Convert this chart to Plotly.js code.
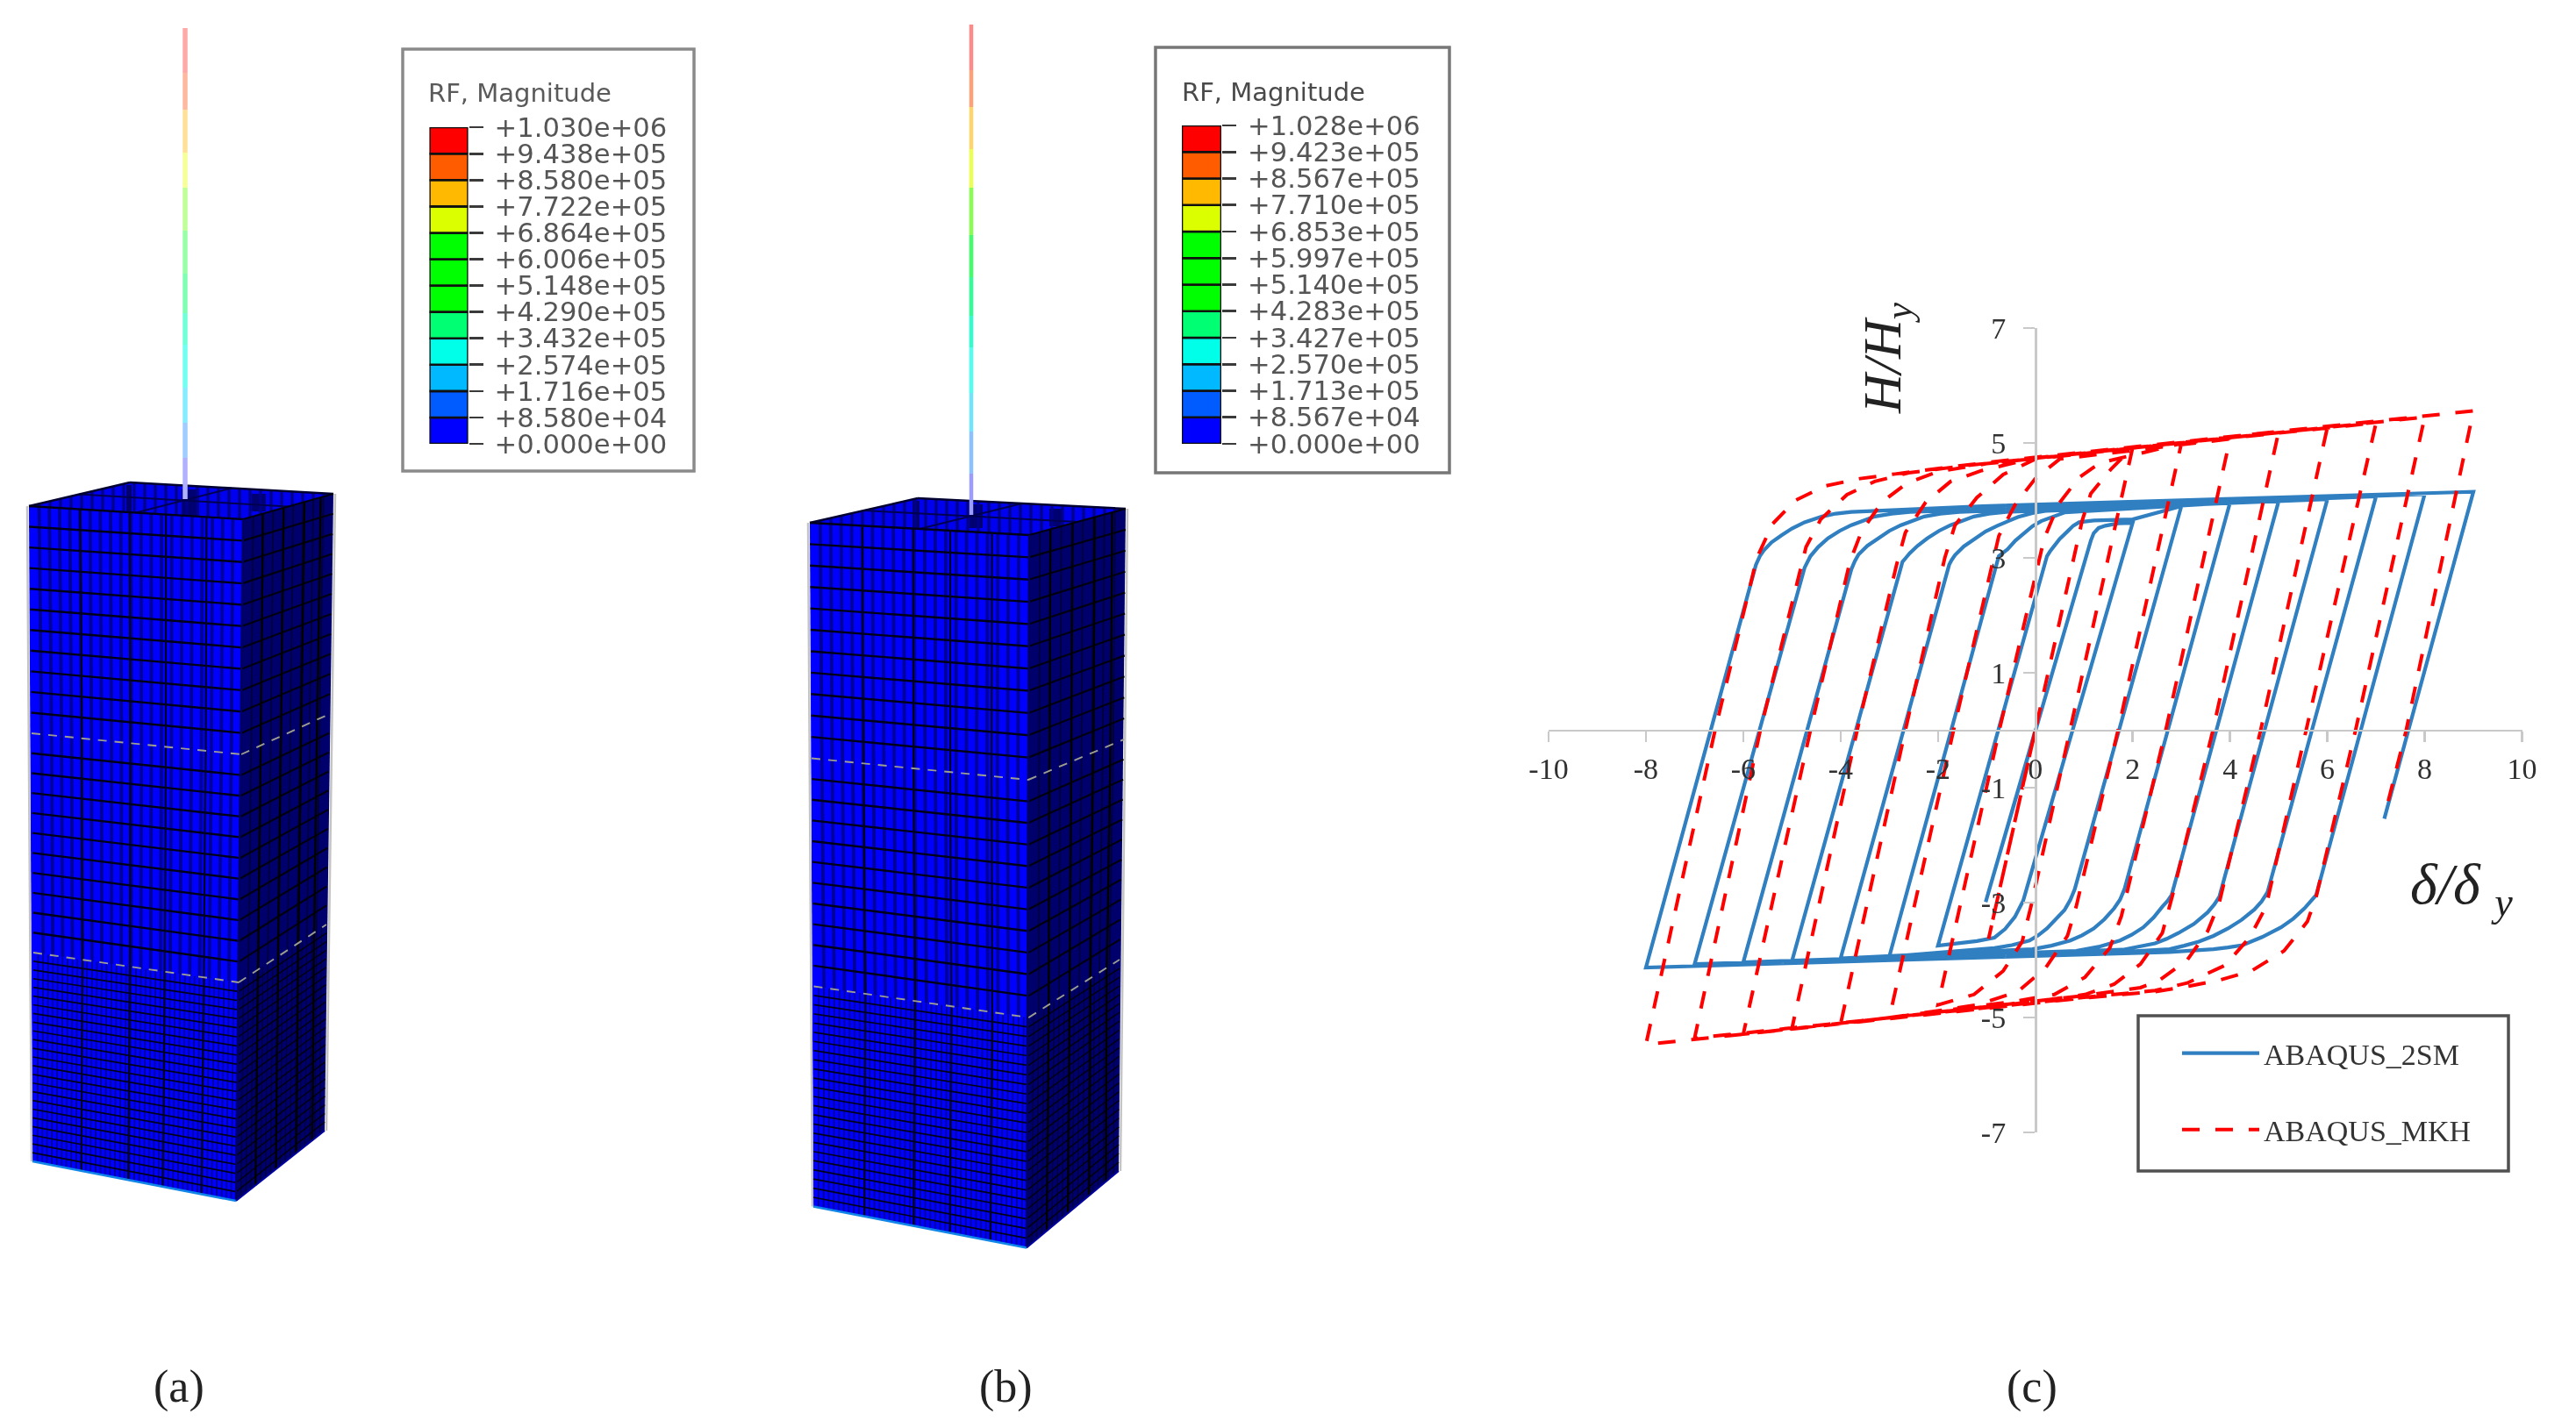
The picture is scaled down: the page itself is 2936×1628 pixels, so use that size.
<!DOCTYPE html>
<html>
<head>
<meta charset="utf-8">
<script src="https://cdn.plot.ly/plotly-3.0.1.min.js"></script>
<style>html,body{margin:0;padding:0;background:#fff}#chart{width:2936px;height:1628px;filter:blur(0.7px)}</style>
</head>
<body>
<div id="chart"></div>
<script>
// ---------- hysteresis series ----------
const blueX = [0,-1.02,0,1.14,1.2,1.3,1.44,1.7,2,
 -0.25,-0.42,-0.62,-0.84,-1.2,-2,
 0.24,0.3,0.36,0.5,0.66,0.78,0.9,1.2,2,3,
 0.81,0.72,0.6,0.42,0.24,0.06,-0.12,-0.48,-0.84,-3,
 -0.75,-0.66,-0.57,-0.41,-0.24,-0.06,0.12,0.6,4,
 1.83,1.74,1.62,1.42,1.2,0.96,0.72,0.33,-0.06,-4,
 -1.77,-1.72,-1.65,-1.47,-1.26,-1.02,-0.78,-0.36,-0.06,0.24,5,
 2.8,2.72,2.61,2.43,2.22,1.98,1.74,1.3,0.84,-5,
 -2.73,-2.66,-2.58,-2.42,-2.22,-1.98,-1.74,-1.26,-0.95,-0.6,6,
 3.78,3.68,3.54,3.26,2.94,2.7,2.46,2.13,1.8,-6,
 -3.78,-3.71,-3.63,-3.45,-3.24,-3,-2.76,-2.28,-1.95,-1.56,7,
 4.77,4.65,4.5,4.24,3.96,3.66,3.36,3.06,2.76,1.5,-7,
 -4.74,-4.68,-4.62,-4.46,-4.26,-4.02,-3.78,-3.3,-2.95,-2.58,8,
 5.77,5.66,5.53,5.3,5.05,4.66,4.26,3.96,3.66,2.76,-8,
 -5.74,-5.66,-5.58,-5.42,-5.22,-5,-4.74,-4.38,-4.1,-3.78,-1.08,9,
 7.17];
const blueY = [0,-2.99,0,3.3,3.43,3.52,3.56,3.6,3.61,
 -2.97,-3.25,-3.46,-3.61,-3.67,-3.75,
 3.03,3.11,3.18,3.33,3.46,3.56,3.62,3.65,3.67,3.9,
 -2.77,-2.95,-3.13,-3.3,-3.45,-3.57,-3.66,-3.74,-3.79,-3.94,
 3.03,3.09,3.15,3.3,3.43,3.55,3.64,3.79,3.96,
 -2.77,-2.95,-3.1,-3.29,-3.45,-3.57,-3.66,-3.75,-3.81,-3.97,
 2.88,2.96,3.05,3.2,3.33,3.46,3.56,3.71,3.78,3.82,3.99,
 -2.87,-2.97,-3.07,-3.26,-3.43,-3.56,-3.66,-3.77,-3.84,-4.02,
 2.93,3,3.08,3.21,3.34,3.47,3.57,3.72,3.77,3.8,4.02,
 -2.9,-3.03,-3.17,-3.37,-3.53,-3.63,-3.71,-3.77,-3.82,-4.04,
 2.8,2.94,3.06,3.21,3.34,3.47,3.57,3.72,3.77,3.8,4.07,
 -2.82,-2.98,-3.12,-3.3,-3.45,-3.58,-3.68,-3.75,-3.81,-3.87,-4.07,
 2.83,2.94,3.03,3.19,3.34,3.47,3.57,3.72,3.77,3.8,4.11,
 -2.87,-2.98,-3.1,-3.28,-3.43,-3.6,-3.74,-3.78,-3.81,-3.86,-4.13,
 2.88,3.03,3.13,3.27,3.39,3.51,3.62,3.72,3.77,3.8,3.9,4.15,
 -1.54];
const redX = [0,-0.96,0,0.96,1.14,1.56,2,
 0.72,-0.09,-0.27,-0.66,-1.26,-2,
 -0.74,0.18,0.48,0.9,1.32,3,
 1.7,0.84,0.66,0.21,-0.36,-1.2,-3,
 -1.68,-0.75,-0.42,0,0.5,4,
 2.68,1.77,1.53,1.02,0.39,-0.42,-4,
 -2.67,-1.86,-1.65,-1.2,-0.66,0,5,
 3.65,2.82,2.61,2.16,1.62,1.02,0,-5,
 -3.66,-2.85,-2.67,-2.25,-1.74,-1.1,0,6,
 4.63,3.78,3.54,3.12,2.52,2.16,1,-6,
 -4.62,-3.81,-3.57,-3.15,-2.64,-2,-1,7,
 5.56,4.74,4.41,3.9,3.12,2.46,1,-7,
 -5.65,-4.71,-4.41,-3.87,-3.3,-2.6,-1.5,8,
 6.58,5.77,5.59,5.11,4.44,3.78,3.18,2.46,1,-8,
 -6.58,-5.72,-5.4,-4.93,-4.32,-3.6,-2.88,-1,9,
 7.62,7.24];
const redY = [0,-3.63,0,3.64,4.12,4.55,4.92,
 0,-3.07,-3.68,-4.19,-4.6,-4.78,
 0,3.33,3.94,4.4,4.65,4.99,
 0,-3.07,-3.58,-4.14,-4.55,-4.78,-5.01,
 0,3.38,3.92,4.38,4.72,5.07,
 0,-3.23,-3.79,-4.3,-4.6,-4.72,-5.11,
 0,3,3.57,4.05,4.45,4.72,5.2,
 0,-2.87,-3.53,-4.07,-4.42,-4.6,-4.72,-5.19,
 0,2.88,3.44,3.97,4.33,4.52,4.74,5.27,
 0,-3,-3.5,-4,-4.37,-4.48,-4.62,-5.29,
 0,2.93,3.46,3.97,4.3,4.5,4.64,5.35,
 0,-3.07,-3.6,-4.09,-4.4,-4.53,-4.65,-5.36,
 0,3.19,3.67,4.1,4.33,4.48,4.6,5.45,
 0,-2.9,-3.33,-3.84,-4.19,-4.35,-4.45,-4.55,-4.66,-5.47,
 0,3,3.59,4,4.25,4.38,4.46,4.66,5.56,
 0,-1.27];
const seriesNames = ["ABAQUS_2SM","ABAQUS_MKH"];
const xTicks = [-10,-8,-6,-4,-2,0,2,4,6,8,10];
const xTickText = ["-10","-8","-6","-4","-2","0","2","4","6","8","10"];
const yTicks = [-7,-5,-3,-1,1,3,5,7];
const yTickText = ["-7","-5","-3","-1","1","3","5","7"];

// ---------- contour legends ----------
const levelsA = [0,85800,171600,257400,343200,429000,514800,600600,686400,772200,858000,943800,1030000];
const labelsA = ["+0.000e+00","+8.580e+04","+1.716e+05","+2.574e+05","+3.432e+05","+4.290e+05","+5.148e+05","+6.006e+05","+6.864e+05","+7.722e+05","+8.580e+05","+9.438e+05","+1.030e+06"];
const levelsB = [0,85670,171300,257000,342700,428300,514000,599700,685300,771000,856700,942300,1028000];
const labelsB = ["+0.000e+00","+8.567e+04","+1.713e+05","+2.570e+05","+3.427e+05","+4.283e+05","+5.140e+05","+5.997e+05","+6.853e+05","+7.710e+05","+8.567e+05","+9.423e+05","+1.028e+06"];
const bandColors = ["#0000ff","#005cff","#00b9ff","#00ffe8","#00ff73","#00ff00","#00ff00","#00ff00","#dcff00","#ffb900","#ff5c00","#ff0000"];
const legendTitle = "RF, Magnitude";

// ---------- rod stripes (scene y, top to bottom) ----------
const rodA = [32,83,125,174,214,263,312,357,393,442,482,522,569];
const rodB = [28,80,122,170,214,268,316,360,396,448,492,540,587];
const rodXA = 211, rodXB = 1107;
const rodColorsA = ["#ffa8a8","#ffb8a0","#ffe098","#f6ff98","#c0ff98","#98ffa8","#80ffb4","#70ffd8","#70fff2","#88ecff","#a0ccff","#b0b0ff"];
const rodColorsB = ["#ff8888","#ffa078","#ffd468","#eaff50","#88ff50","#40ff68","#30ff98","#30ffcc","#50fff0","#70e4ff","#8cc0ff","#9c9cff"];

// ---------- tower outlines (scene px): left, front, right corner at each level ----------
const towerALeft  = [[33,577],[36,836],[38,1086],[37,1324]];
const towerAFront = [[277,592],[275,860],[272,1120],[269,1369]];
const towerARight = [[380,563],[375.5,814],[372,1054],[370,1289]];
const towerABack  = [148,550];
const towerBLeft  = [[923,596],[925,864.5],[927.5,1124.5],[927,1375.5]];
const towerBFront = [[1173,610],[1172,889],[1172.5,1160],[1170,1422.5]];
const towerBRight = [[1283,580],[1281,843],[1276,1094],[1275,1335]];
const towerBBack  = [1046,568];
const darkPatchA = [[[207,558],[227,558],[227,588],[207,588]],[[287,563],[303,563],[303,583],[287,583]],[[144,553],[150,553],[150,585],[144,585]]];
const darkPatchB = [[[1105,575],[1120,575],[1120,602],[1105,602]],[[1196,580],[1212,580],[1212,600],[1196,600]],[[1040,571],[1048,571],[1048,602],[1040,602]]];
const rowCounts = [11,11,24];
const leftCols = [21,21,42];
const rightCols = [9,9,18];
const strongLeft = [0.24,0.47,0.64,0.83];
const strongRight = [0.22,0.45,0.68,0.86];

const W = 2936, H = 1628;
const panelLabels = ["(a)","(b)","(c)"];
const panelLabelX = [204,1146,2316];

const traces = [];
const SCENE = {xaxis:'x3',yaxis:'y3',showlegend:false,hoverinfo:'skip',type:'scatter'};

function polyTrace(pts,color){
  traces.push(Object.assign({},SCENE,{mode:'lines',x:pts.map(p=>p[0]).concat(pts[0][0]),y:pts.map(p=>p[1]).concat(pts[0][1]),fill:'toself',fillcolor:color,line:{width:0,color:color}}));
}
function lerp(a,b,t){return [a[0]+(b[0]-a[0])*t,a[1]+(b[1]-a[1])*t];}
function addLines(segs,color,width,dash){
  const x=[],y=[];
  segs.forEach(s=>{x.push(s[0][0],s[1][0],null);y.push(s[0][1],s[1][1],null);});
  traces.push(Object.assign({},SCENE,{mode:'lines',x:x,y:y,line:{color:color,width:width,dash:dash||'solid'}}));
}
function evenStops(n){const a=[];for(let i=1;i<n;i++)a.push(i/n);return a;}

function drawTower(L,F,R,back,patches){
  polyTrace([L[0],F[0],F[3],L[3]],'#0000ff');
  polyTrace([F[0],R[0],R[3],F[3]],'#00006c');
  polyTrace([L[0],back,R[0],F[0]],'#0000f0');
  patches.forEach(p=>polyTrace(p,'#000070'));
  addLines([[[L[0][0]-2,L[0][1]],[L[3][0]-1,L[3][1]]],[[R[0][0]+2,R[0][1]],[R[3][0]+2,R[3][1]]]],'#c4c4c4',2.5);
  const topSegs=[];
  const xs0=L[0][0], xsEnd=R[0][0];
  for(let x=xs0+12;x<xsEnd;x+=12){
    const yb = x<back[0] ? L[0][1]+(back[1]-L[0][1])*(x-L[0][0])/(back[0]-L[0][0]) : back[1]+(R[0][1]-back[1])*(x-back[0])/(R[0][0]-back[0]);
    const yf = x<F[0][0] ? L[0][1]+(F[0][1]-L[0][1])*(x-L[0][0])/(F[0][0]-L[0][0]) : F[0][1]+(R[0][1]-F[0][1])*(x-F[0][0])/(R[0][0]-F[0][0]);
    topSegs.push([[x,yb],[x,yf]]);
  }
  addLines(topSegs,'#00008c',3.5);
  addLines([[lerp(L[0],back,0.5),lerp(F[0],R[0],0.5)],[lerp(back,R[0],0.5),lerp(L[0],F[0],0.5)]],'#000050',2);
  addLines([[L[0],back],[back,R[0]]],'#000030',2.5);
  for(let s=0;s<3;s++){
    const c=[],cR=[],r=[],rR=[];
    evenStops(leftCols[s]).forEach(t=>c.push([lerp(L[s],F[s],t),lerp(L[s+1],F[s+1],t)]));
    evenStops(rightCols[s]).forEach(t=>cR.push([lerp(F[s],R[s],t),lerp(F[s+1],R[s+1],t)]));
    evenStops(rowCounts[s]).concat(s==0?[0]:[]).forEach(t=>{
      const a=lerp(L[s],L[s+1],t),b=lerp(F[s],F[s+1],t),d=lerp(R[s],R[s+1],t);
      r.push([a,b]);rR.push([b,d]);
    });
    addLines(c,'#00009a',s==2?1.8:3.8);
    addLines(cR,'#000040',s==2?1.3:2);
    addLines(r,'#000018',s==2?1.7:2.4);
    addLines(rR,'#000010',s==2?1.5:2.2);
    addLines(strongLeft.map(t=>[lerp(L[s],F[s],t),lerp(L[s+1],F[s+1],t)]),'#000020',2.2);
    addLines(strongRight.map(t=>[lerp(F[s],R[s],t),lerp(F[s+1],R[s+1],t)]),'#000000',2.4);
  }
  addLines([[F[0],F[3]]],'#000060',2.5);
  addLines([[L[1],F[1]],[F[1],R[1]],[L[2],F[2]],[F[2],R[2]]],'#9e9e90',1.9,'10px,9px');
  addLines([[L[3],F[3]]],'#0f86e8',2.6);
  addLines([[F[3],R[3]]],'#0000a0',2);
}
function drawRod(x,ys,colors,width){
  colors.forEach((c,i)=>traces.push(Object.assign({},SCENE,{mode:'lines',x:[x,x],y:[ys[i],ys[i+1]],line:{color:c,width:width}})));
}
drawTower(towerALeft,towerAFront,towerARight,towerABack,darkPatchA);
drawTower(towerBLeft,towerBFront,towerBRight,towerBBack,darkPatchB);
drawRod(rodXA,rodA,rodColorsA,5.5);
drawRod(rodXB,rodB,rodColorsB,4.5);

function colorBar(levels,xa,ya){
  traces.push({type:'bar',xaxis:xa,yaxis:ya,showlegend:false,hoverinfo:'skip',
    x:levels.slice(0,-1).map(()=>0),
    base:levels.slice(0,-1),
    y:levels.slice(1).map((v,i)=>v-levels[i]),
    width:1,
    marker:{color:bandColors,line:{color:'#101010',width:2.6}}});
}
colorBar(levelsA,'x4','y4');
colorBar(levelsB,'x5','y5');

traces.push({type:'scatter',mode:'lines',x:blueX,y:blueY,name:seriesNames[0],legendgroup:'g1',
  line:{color:'#2f7fc1',width:4.2},hoverinfo:'skip'});
traces.push({type:'scatter',mode:'lines',x:redX,y:redY,name:seriesNames[1],legendgroup:'g2',
  line:{color:'#ff0000',width:4,dash:'20px,18px'},hoverinfo:'skip'});

function hiddenAxis(o){return Object.assign({visible:false,fixedrange:true,showgrid:false,zeroline:false},o);}
function barYAxis(levels,labels,domain,anchor){
  return {domain:domain,anchor:anchor,side:'right',range:[0,levels[levels.length-1]],
    tickmode:'array',tickvals:levels,ticktext:labels,ticks:'outside',ticklen:16,tickwidth:2.6,tickcolor:'#3a3a3a',
    ticklabelstandoff:7,tickfont:{family:'DejaVu Sans',size:30.6,color:'#555'},showgrid:false,zeroline:false,showline:false,fixedrange:true};
}
const SERIF='Liberation Serif';
const axisGray='#c9c9c9';
const layout = {
  width:W,height:H,margin:{l:0,r:0,t:0,b:0},paper_bgcolor:'#fff',plot_bgcolor:'rgba(0,0,0,0)',showlegend:true,
  xaxis:{domain:[1765/W,2874.5/W],range:[-10,10],anchor:'free',position:1-832.5/H,side:'bottom',
    tickmode:'array',tickvals:xTicks,ticktext:xTickText,ticks:'outside',ticklen:12,tickwidth:2.5,tickcolor:axisGray,
    showline:true,linecolor:axisGray,linewidth:2.8,showgrid:false,zeroline:false,ticklabelstandoff:1,
    tickfont:{family:SERIF,size:34,color:'#303030'}},
  yaxis:{domain:[1-1291/H,1-374/H],range:[-7,7],anchor:'free',position:2320/W,side:'left',
    tickmode:'array',tickvals:yTicks,ticktext:yTickText,ticks:'outside',ticklen:13,tickwidth:2.5,tickcolor:axisGray,
    showline:true,linecolor:axisGray,linewidth:2.8,showgrid:false,zeroline:false,ticklabelstandoff:13,
    tickfont:{family:SERIF,size:34,color:'#303030'}},
  xaxis3:hiddenAxis({domain:[0,1],range:[0,W],anchor:'y3'}),
  yaxis3:hiddenAxis({domain:[0,1],range:[H,0],anchor:'x3'}),
  xaxis4:hiddenAxis({domain:[489.5/W,533.5/W],range:[-0.5,0.5],anchor:'y4'}),
  yaxis4:barYAxis(levelsA,labelsA,[1-506/H,1-145/H],'x4'),
  xaxis5:hiddenAxis({domain:[1347/W,1392/W],range:[-0.5,0.5],anchor:'y5'}),
  yaxis5:barYAxis(levelsB,labelsB,[1-506/H,1-143/H],'x5'),
  legend:{x:2482/W,y:1-1172/H,xanchor:'left',yanchor:'top',bgcolor:'rgba(0,0,0,0)',borderwidth:0,itemwidth:88,
    traceorder:'grouped',tracegroupgap:40,font:{family:SERIF,size:34,color:'#333'}},
  shapes:[
    {type:'rect',xref:'paper',yref:'paper',x0:459/W,x1:791/W,y0:1-537/H,y1:1-56/H,line:{color:'#8a8a8a',width:3.5}},
    {type:'rect',xref:'paper',yref:'paper',x0:1317/W,x1:1652/W,y0:1-539/H,y1:1-54/H,line:{color:'#777',width:3.5}},
    {type:'rect',xref:'paper',yref:'paper',x0:2437/W,x1:2859/W,y0:1-1335/H,y1:1-1158/H,line:{color:'#505050',width:3.5}}
  ],
  annotations:[
    {text:legendTitle,xref:'paper',yref:'paper',x:486/W,y:1-106/H,xanchor:'left',yanchor:'middle',showarrow:false,font:{family:'DejaVu Sans',size:29,color:'#5a5a5a'}},
    {text:legendTitle,xref:'paper',yref:'paper',x:1345/W,y:1-105/H,xanchor:'left',yanchor:'middle',showarrow:false,font:{family:'DejaVu Sans',size:29,color:'#4a4a4a'}},
    {text:'<i>H/H<sub>y</sub></i>',xref:'paper',yref:'paper',x:2150/W,y:1-408/H,xanchor:'center',yanchor:'middle',textangle:-90,showarrow:false,font:{family:SERIF,size:62,color:'#222'}},
    {text:'<i>δ/δ <sub>y</sub></i>',xref:'paper',yref:'paper',x:2805/W,y:1-1012/H,xanchor:'center',yanchor:'middle',showarrow:false,font:{family:SERIF,size:66,color:'#222'}}
  ].concat(panelLabels.map((t,i)=>({text:t,xref:'paper',yref:'paper',x:panelLabelX[i]/W,y:1-1581/H,xanchor:'center',yanchor:'middle',showarrow:false,font:{family:SERIF,size:52,color:'#222'}})))
};
Plotly.newPlot('chart',traces,layout,{staticPlot:true,displayModeBar:false});
</script>
</body>
</html>
